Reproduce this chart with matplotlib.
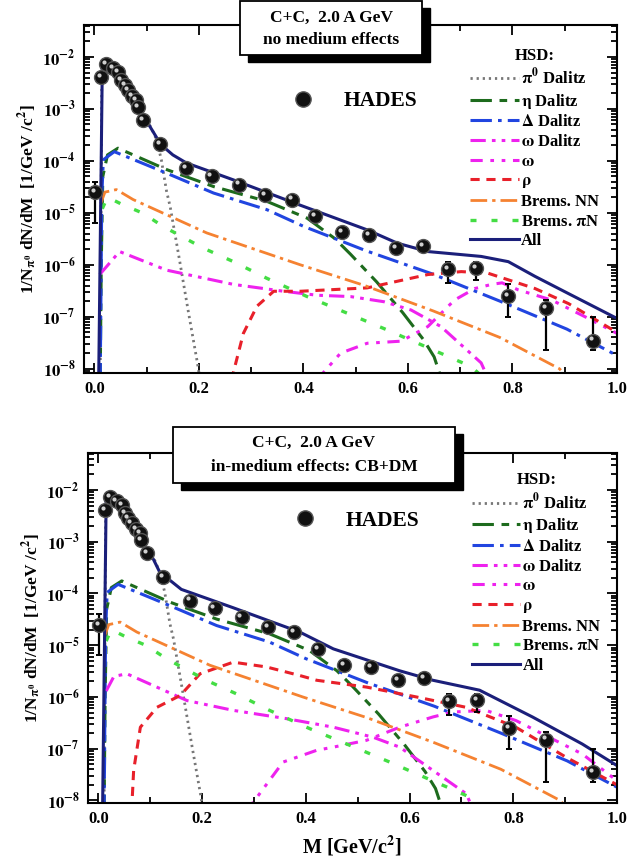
import numpy as np
import matplotlib
matplotlib.use('Agg')
import matplotlib.pyplot as plt
from matplotlib.patches import Rectangle
from matplotlib.lines import Line2D
from matplotlib.ticker import MultipleLocator, FixedLocator, FuncFormatter, NullFormatter
from matplotlib.transforms import ScaledTranslation

plt.rcParams['font.family'] = ['Liberation Serif', 'DejaVu Serif']
plt.rcParams['font.weight'] = 'bold'
plt.rcParams['mathtext.fontset'] = 'stix'
plt.rcParams['mathtext.default'] = 'bf'

# HADES data (C+C, 2.0 A GeV)
hades_m = [0.002, 0.013, 0.023, 0.035, 0.045, 0.051, 0.058, 0.064, 0.072, 0.080,
           0.083, 0.093, 0.125, 0.176, 0.224, 0.276, 0.327, 0.378, 0.423, 0.474,
           0.526, 0.577, 0.628, 0.676, 0.731, 0.792, 0.864, 0.954]
hades_y = [2.5e-5, 4.1e-3, 7.3e-3, 6.1e-3, 5.2e-3, 3.6e-3, 2.9e-3, 2.3e-3, 1.75e-3, 1.5e-3,
           1.1e-3, 6.1e-4, 2.1e-4, 7.3e-5, 5.2e-5, 3.5e-5, 2.2e-5, 1.8e-5, 8.5e-6, 4.2e-6,
           3.8e-6, 2.1e-6, 2.3e-6, 8.3e-7, 8.7e-7, 2.5e-7, 1.5e-7, 3.5e-8]
# upper / lower ends of the error bars (0 -> no bar)
hades_hi = [4.0e-5, 0, 0, 0, 0, 0, 0, 0, 0, 0,
            0, 0, 0, 0, 0, 0, 0, 0, 0, 0,
            0, 2.6e-6, 0, 1.12e-6, 1.12e-6, 4.2e-7, 2.1e-7, 1.0e-7]
hades_lo = [6.5e-6, 0, 0, 0, 0, 0, 0, 0, 0, 0,
            0, 0, 0, 0, 0, 0, 0, 0, 0, 0,
            0, 1.7e-6, 0, 4.5e-7, 5.1e-7, 1.0e-7, 2.3e-8, 2.3e-8]

# HSD contributions, same in both panels
pi0_m = [0.011, 0.014, 0.022, 0.04, 0.06, 0.08, 0.095, 0.109, 0.119, 0.128, 0.138, 0.145, 0.163, 0.18, 0.197, 0.205]
pi0_y = [5e-9, 4e-3, 7.3e-3, 5.6e-3, 2.9e-3, 1.4e-3, 7e-4, 4.3e-4, 2.5e-4, 1.05e-4, 2.6e-5, 1.3e-5, 1.2e-6, 1.2e-7, 1.3e-8, 4e-9]

eta_m = [0.011, 0.013, 0.016, 0.025, 0.045, 0.138, 0.228, 0.330, 0.407, 0.46, 0.49, 0.54, 0.59, 0.63, 0.65, 0.665]
eta_y = [5e-9, 1e-6, 5e-5, 1.3e-4, 1.75e-4, 6.8e-5, 3.2e-5, 1.66e-5, 7.9e-6, 3.2e-6, 1.6e-6, 4.7e-7, 1.2e-7, 3.6e-8, 1.7e-8, 6e-9]

delta_m = [0.011, 0.014, 0.017, 0.038, 0.138, 0.228, 0.330, 0.40, 0.52, 0.648, 0.776, 0.904, 1.0]
delta_y = [5e-9, 2e-5, 1.05e-4, 1.5e-4, 5.8e-5, 2.4e-5, 1.15e-5, 5.5e-6, 1.86e-6, 6.6e-7, 2.0e-7, 5.8e-8, 1.8e-8]

bremNN_m = [0.012, 0.02, 0.042, 0.074, 0.215, 0.394, 0.517, 0.648, 0.776, 0.89, 0.91]
bremNN_y = [1.5e-5, 2.5e-5, 2.8e-5, 1.8e-5, 4.1e-6, 1.0e-6, 4.0e-7, 1.3e-7, 4.0e-8, 1.0e-8, 6e-9]

bremPiN_m = [0.015, 0.025, 0.05, 0.093, 0.131, 0.208, 0.266, 0.330, 0.407, 0.484, 0.560, 0.676, 0.721, 0.75]
bremPiN_y = [1.2e-5, 2.0e-5, 1.5e-5, 9.8e-6, 5.5e-6, 2.1e-6, 1.15e-6, 5.5e-7, 2.45e-7, 1.17e-7, 5.6e-8, 1.74e-8, 1.1e-8, 6e-9]

# no medium effects
omD_free_m = [0.010, 0.048, 0.138, 0.266, 0.362, 0.426, 0.490, 0.554, 0.606, 0.663, 0.740, 0.755]
omD_free_y = [6.5e-7, 1.8e-6, 7.9e-7, 4.2e-7, 3.1e-7, 2.6e-7, 2.45e-7, 1.95e-7, 1.35e-7, 6.5e-8, 1.3e-8, 6e-9]
om_free_m = [0.425, 0.471, 0.522, 0.587, 0.638, 0.689, 0.728, 0.76, 0.78, 0.811, 0.875, 0.939, 1.0]
om_free_y = [6e-9, 2.0e-8, 3.1e-8, 3.4e-8, 6.5e-8, 2.1e-7, 3.5e-7, 4.2e-7, 4.5e-7, 3.3e-7, 2.1e-7, 1.0e-7, 4.8e-8]
rho_free_m = [0.262, 0.285, 0.311, 0.343, 0.394, 0.522, 0.638, 0.702, 0.753, 0.843, 0.907, 1.0]
rho_free_y = [6e-9, 4.8e-8, 1.6e-7, 3.1e-7, 3.1e-7, 3.6e-7, 6.5e-7, 7.4e-7, 6.9e-7, 3.5e-7, 1.8e-7, 5.0e-8]
all_free_m = [0.008, 0.015, 0.022, 0.03, 0.048, 0.065, 0.08, 0.095, 0.106, 0.12, 0.131, 0.15, 0.176,
              0.266, 0.394, 0.522, 0.58, 0.638, 0.74, 0.792, 0.843, 0.907, 1.0]
all_free_y = [5e-9, 6.5e-3, 7.6e-3, 6.8e-3, 4.5e-3, 2.4e-3, 1.35e-3, 6.8e-4, 4.6e-4, 2.7e-4, 1.9e-4, 1.3e-4, 9.1e-5,
              4.3e-5, 1.4e-5, 4.7e-6, 2.6e-6, 1.8e-6, 1.45e-6, 1.15e-6, 6e-7, 2.8e-7, 9.3e-8]

# in-medium effects: CB+DM
omD_med_m = [0.015, 0.03, 0.055, 0.171, 0.26, 0.363, 0.453, 0.53, 0.581, 0.645, 0.709, 0.725]
omD_med_y = [1.3e-6, 2.5e-6, 2.8e-6, 8.5e-7, 5.5e-7, 3.8e-7, 2.6e-7, 1.66e-7, 1.07e-7, 3.8e-8, 1.35e-8, 6e-9]
om_med_m = [0.285, 0.356, 0.421, 0.453, 0.517, 0.581, 0.645, 0.683, 0.747, 0.805, 0.869, 0.933, 1.0]
om_med_y = [6e-9, 5.5e-8, 9.3e-8, 1.07e-7, 1.45e-7, 2.6e-7, 4.1e-7, 5.1e-7, 5.5e-7, 3.5e-7, 1.66e-7, 7.9e-8, 2.4e-8]
rho_med_m = [0.064, 0.068, 0.081, 0.113, 0.158, 0.196, 0.26, 0.324, 0.388, 0.421, 0.517, 0.613, 0.709, 0.805, 0.901, 1.0]
rho_med_y = [6e-9, 3.8e-8, 2.6e-7, 6.3e-7, 1.07e-6, 2.8e-6, 4.7e-6, 3.8e-6, 2.6e-6, 2.1e-6, 1.55e-6, 1.0e-6, 6.3e-7, 2.6e-7, 6.9e-8, 2.0e-8]
all_med_m = [0.008, 0.015, 0.022, 0.03, 0.048, 0.065, 0.08, 0.095, 0.106, 0.119, 0.138, 0.16,
             0.26, 0.388, 0.453, 0.581, 0.645, 0.735, 0.837, 0.933, 1.0]
all_med_y = [5e-9, 6.5e-3, 7.6e-3, 6.8e-3, 4.5e-3, 2.4e-3, 1.35e-3, 6.8e-4, 4.6e-4, 2.5e-4, 1.8e-4, 1.2e-4,
             5.3e-5, 1.8e-5, 8.5e-6, 3.2e-6, 2.1e-6, 1.35e-6, 4.1e-7, 1.23e-7, 4.7e-8]

# y tick decades shown on both panels
decades = [-8, -7, -6, -5, -4, -3, -2]

W, H = 627, 867
fig = plt.figure(figsize=(W / 100, H / 100), dpi=100)

def px_rect(x0, y0, x1, y1):
    # pixel box (from top-left) -> figure fraction [l, b, w, h]
    return [x0 / W, 1 - y1 / H, (x1 - x0) / W, (y1 - y0) / H]

ax1 = fig.add_axes(px_rect(84, 25, 617, 373))
ax2 = fig.add_axes(px_rect(88, 453, 617, 803))

styles = {
    'pi0': dict(color='#777777', ls=(0, (0.8, 1.4)), lw=2.0),
    'eta': dict(color='#1d6b1d', ls=(0, (7, 2.5, 2.5, 2.5)), lw=2.2),
    'delta': dict(color='#2145e0', ls=(0, (7, 2, 1.2, 2)), lw=2.2),
    'omD': dict(color='#ee22ee', ls=(0, (5, 2, 1.2, 2, 1.2, 2)), lw=2.2),
    'om': dict(color='#ee22ee', ls=(0, (4, 2.5, 1.2, 2.5, 1.2, 2.5)), lw=2.2),
    'rho': dict(color='#e8202a', ls=(0, (3, 2.2)), lw=2.2),
    'bremNN': dict(color='#f58231', ls=(0, (6, 1.8, 1.2, 1.8)), lw=2.0),
    'bremPiN': dict(color='#44dd44', ls=(0, (1.8, 4.5)), lw=2.4),
    'all': dict(color='#1b1f7a', ls='-', lw=2.2),
}
labels = {
    'pi0': r'$\pi^0$ Dalitz', 'eta': r'$\eta$ Dalitz', 'delta': r'$\Delta$ Dalitz',
    'omD': r'$\omega$ Dalitz', 'om': r'$\omega$', 'rho': r'$\rho$',
    'bremNN': 'Brems. NN', 'bremPiN': r'Brems. $\pi$N', 'all': 'All',
}

panels = [
    (ax1, omD_free_m, omD_free_y, om_free_m, om_free_y, rho_free_m, rho_free_y, all_free_m, all_free_y, 0.935, 0.81),
    (ax2, omD_med_m, omD_med_y, om_med_m, om_med_y, rho_med_m, rho_med_y, all_med_m, all_med_y, 0.945, 0.835),
]

yerr_lo = np.where(np.array(hades_lo) > 0, np.array(hades_y) - np.array(hades_lo), 0)
yerr_hi = np.where(np.array(hades_hi) > 0, np.array(hades_hi) - np.array(hades_y), 0)

major_y = [10.0 ** d for d in decades]
minor_y = [k * 10.0 ** d for d in [-9] + decades for k in range(2, 10)]

for ax, omDm, omDy, omm, omy, rhom, rhoy, allm, ally, leg_y, hades_ly in panels:
    curves = {
        'pi0': (pi0_m, pi0_y), 'eta': (eta_m, eta_y), 'delta': (delta_m, delta_y),
        'omD': (omDm, omDy), 'om': (omm, omy), 'rho': (rhom, rhoy),
        'bremNN': (bremNN_m, bremNN_y), 'bremPiN': (bremPiN_m, bremPiN_y), 'all': (allm, ally),
    }
    handles = []
    for key in ['pi0', 'eta', 'delta', 'omD', 'om', 'rho', 'bremNN', 'bremPiN', 'all']:
        m, y = curves[key]
        ln, = ax.plot(m, y, label=labels[key], **styles[key])
        handles.append(ln)

    # data with error bars
    ax.errorbar(hades_m, hades_y, yerr=[yerr_lo, yerr_hi], fmt='none', ecolor='black',
                elinewidth=1.6, capsize=2.5, capthick=1.4, zorder=5)
    ax.plot(hades_m, hades_y, 'o', ms=10, mfc='#111111', mec='#555555', mew=1.0, zorder=6)
    shift = ax.transData + ScaledTranslation(-1.5 / 72, 1.5 / 72, fig.dpi_scale_trans)
    ax.plot(hades_m, hades_y, 'o', ms=3, mfc='#cfcfcf', mec='none', transform=shift, zorder=7)

    ax.set_yscale('log')
    ax.set_xlim(-0.02, 1.0)
    ax.xaxis.set_major_locator(MultipleLocator(0.2))
    ax.xaxis.set_minor_locator(MultipleLocator(0.1))
    ax.xaxis.set_major_formatter(FuncFormatter(lambda v, p: '%.1f' % v))
    ax.yaxis.set_major_locator(FixedLocator(major_y))
    ax.yaxis.set_minor_locator(FixedLocator(minor_y))
    ax.yaxis.set_minor_formatter(NullFormatter())
    ax.yaxis.set_major_formatter(FuncFormatter(lambda v, p: r'$10^{%d}$' % round(np.log10(v))))
    ax.tick_params(which='both', direction='in', top=True, right=True, width=1.3, labelsize=12)
    ax.tick_params(which='major', length=7, pad=6)
    ax.tick_params(which='minor', length=4)
    for s in ax.spines.values():
        s.set_linewidth(1.5)
    ax.set_ylabel(r'1/N$_{\pi^0}$ dN/dM  [1/GeV /c$^2$]', fontsize=12.5, fontweight='bold', labelpad=2)

    leg = ax.legend(handles=handles, loc='upper left', bbox_to_anchor=(0.725, leg_y), frameon=False,
                    title='HSD:', title_fontproperties={'weight': 'bold', 'size': 12},
                    fontsize=12, handlelength=2.9, handletextpad=0.15, labelspacing=0.22,
                    borderpad=0, borderaxespad=0)
    ax.add_artist(leg)
    hades = Line2D([], [], ls='none', marker='o', ms=11, mfc='#111111', mec='#555555')
    ax.legend(handles=[hades], labels=['HADES'], loc='upper left', bbox_to_anchor=(0.37, hades_ly),
              frameon=False, fontsize=15.5, handletextpad=0.9, borderpad=0, borderaxespad=0)

ax1.set_ylim(8.3e-9, 4.1e-2)
ax2.set_ylim(8.9e-9, 5.2e-2)
ax2.set_xlabel(r'M [GeV/c$^2$]', fontsize=14.5, fontweight='bold', labelpad=5)

# title boxes with drop shadow
def title_box(x0, y0, x1, y1, lines, ycent):
    fig.add_artist(Rectangle((x0 / W + 8 / W, 1 - (y1 + 7) / H), (x1 - x0) / W, (y1 - y0) / H,
                             transform=fig.transFigure, fc='black', ec='black', zorder=10))
    fig.add_artist(Rectangle((x0 / W, 1 - y1 / H), (x1 - x0) / W, (y1 - y0) / H,
                             transform=fig.transFigure, fc='white', ec='black', lw=1.3, zorder=11))
    for txt, yc in zip(lines, ycent):
        fig.text((x0 + x1) / 2 / W, 1 - yc / H, txt, ha='center', va='center',
                 fontsize=12.5, fontweight='bold', zorder=12)

title_box(240, 1, 422, 55, ['C+C,  2.0 A GeV', 'no medium effects'], [18, 40])
title_box(173, 427, 455, 483, ['C+C,  2.0 A GeV', 'in-medium effects: CB+DM'], [443, 467])

fig.savefig('out.png', dpi=100)
